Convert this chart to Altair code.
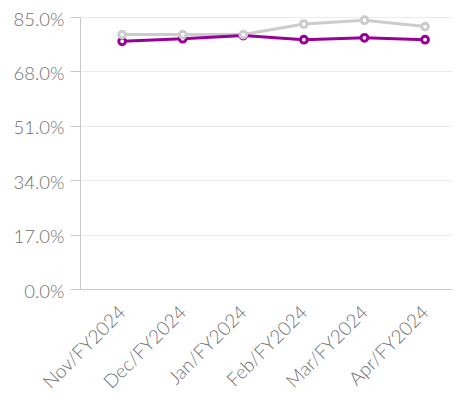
import altair as alt
import pandas as pd

months = ["Nov/FY2024", "Dec/FY2024", "Jan/FY2024", "Feb/FY2024", "Mar/FY2024", "Apr/FY2024"]
series_gray = [79.5, 79.5, 79.5, 82.8, 84.0, 82.0]
series_purple = [77.4, 78.2, 79.2, 77.9, 78.5, 77.9]
y_ticks = [0, 17, 34, 51, 68, 85]

rows = []
for m, g, p in zip(months, series_gray, series_purple):
    rows.append({"month": m, "series": "B", "value": g})
    rows.append({"month": m, "series": "A", "value": p})
df = pd.DataFrame(rows)

FONT = "Lato"
LABEL = "#707070"
AXIS = "#c8c8c8"

chart = alt.Chart(df).mark_line(
    strokeWidth=3,
    point=alt.OverlayMarkDef(filled=False, fill="white", size=45, strokeWidth=3),
).encode(
    x=alt.X("month:N", sort=months, title=None,
            scale=alt.Scale(type="point", padding=0.57, align=0.61),
            axis=alt.Axis(labelAngle=-45, labelAlign="right", labelBaseline="middle",
                          labelFontSize=19, labelColor=LABEL, labelFont=FONT, labelFontWeight=300,
                          ticks=False, domainColor=AXIS, labelPadding=20, grid=False)),
    y=alt.Y("value:Q", title=None,
            scale=alt.Scale(domain=[0, 85], nice=False),
            axis=alt.Axis(values=y_ticks, labelExpr="format(datum.value, '.1f') + '%'",
                          labelFontSize=18.5, labelColor=LABEL, labelFont=FONT, labelFontWeight=300,
                          labelOffset=2, tickSize=10, tickColor=AXIS, domainColor=AXIS,
                          gridColor="#ebebeb", labelPadding=6)),
    color=alt.Color("series:N", legend=None,
                    scale=alt.Scale(domain=["B", "A"], range=["#cccccc", "#990099"])),
    order=alt.Order("series:N"),
).properties(
    width=372, height=272,
    autosize=alt.AutoSizeParams(type="none"),
    padding={"left": 72, "top": 9, "right": 0, "bottom": 110},
).configure(background="white").configure_view(stroke=None)

chart.save("out.html", embed_options={"renderer": "svg", "actions": False})
